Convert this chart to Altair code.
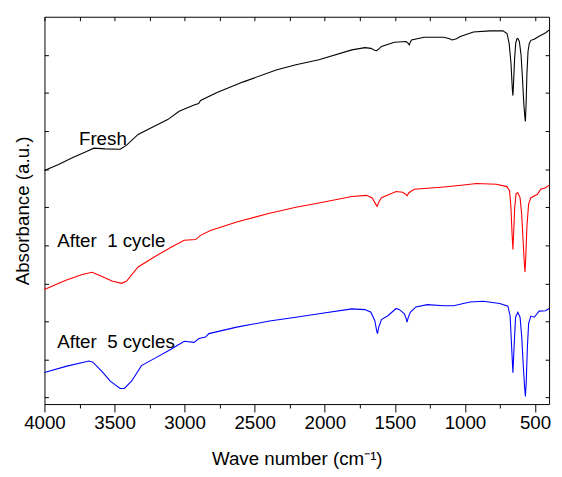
import altair as alt
import pandas as pd

FONT = "Liberation Sans"

# ---- data (wave number cm^-1, absorbance a.u.) ----
fresh_w = [4000, 3900, 3801, 3700, 3648, 3566, 3460, 3414, 3332, 3220, 3121, 3039, 2933, 2900, 2886,
           2769, 2581, 2347, 2206, 2042, 1807, 1714, 1671, 1645, 1631, 1610, 1596, 1503, 1420, 1405,
           1397, 1390, 1381, 1292, 1151, 1110, 1092, 1060, 1033, 940, 822, 729, 700, 685, 672, 662,
           658, 654, 646, 638, 630, 623, 612, 600, 590, 580, 572, 569, 564, 558, 550, 541, 530, 506,
           471, 424, 400]
fresh_a = [5.96, 6.12, 6.30, 6.46, 6.55, 6.53, 6.52, 6.63, 6.91, 7.12, 7.30, 7.52, 7.68, 7.72, 7.80,
           8.01, 8.29, 8.60, 8.74, 8.87, 9.13, 9.19, 9.17, 9.12, 9.11, 9.17, 9.22, 9.33, 9.35, 9.30,
           9.26, 9.33, 9.39, 9.46, 9.46, 9.42, 9.39, 9.42, 9.48, 9.60, 9.63, 9.63, 9.56, 9.30, 8.80, 8.10,
           7.93, 8.20, 8.90, 9.30, 9.42, 9.43, 9.35, 9.00, 8.40, 7.70, 7.35, 7.25, 7.70, 8.50, 9.10, 9.30, 9.38, 9.41,
           9.49, 9.58, 9.65]

cyc1_w = [4000, 3988, 3847, 3731, 3660, 3601, 3519, 3449, 3414, 3332, 3214, 3097, 3003, 2922, 2886,
          2816, 2628, 2394, 2206, 2042, 1807, 1702, 1662, 1640, 1627, 1612, 1596, 1550, 1491, 1444,
          1420, 1413, 1400, 1362, 1221, 1151, 1010, 917, 776, 701, 682, 672, 664, 658, 653, 645, 635,
          623, 607, 595, 585, 576, 572, 566, 558, 546, 530, 483, 459, 424, 400]
cyc1_a = [2.84, 2.86, 3.08, 3.23, 3.29, 3.20, 3.06, 3.00, 3.06, 3.43, 3.70, 3.95, 4.13, 4.15, 4.26,
          4.39, 4.61, 4.84, 5.00, 5.11, 5.28, 5.31, 5.24, 5.10, 5.02, 5.15, 5.25, 5.32, 5.41, 5.39,
          5.33, 5.30, 5.38, 5.47, 5.51, 5.53, 5.58, 5.62, 5.60, 5.54, 5.43, 5.00, 4.30, 3.89, 4.30, 5.00, 5.36,
          5.38, 5.25, 4.80, 4.10, 3.50, 3.30, 3.70, 4.50, 5.08, 5.25, 5.34, 5.47, 5.51, 5.58]

cyc5_w = [4000, 3847, 3683, 3655, 3590, 3531, 3460, 3430, 3379, 3308, 3214, 3097, 3003, 2933, 2898,
          2851, 2827, 2628, 2394, 2206, 2042, 1807, 1714, 1671, 1643, 1630, 1624, 1615, 1596, 1550,
          1491, 1467, 1432, 1420, 1413, 1405, 1390, 1350, 1268, 1151, 1081, 964, 870, 752, 694, 678,
          668, 658, 650, 639, 623, 607, 595, 585, 575, 569, 563, 555, 546, 530, 506, 471, 424, 400]
cyc5_a = [0.66, 0.82, 0.96, 0.93, 0.69, 0.43, 0.24, 0.24, 0.43, 0.84, 1.03, 1.27, 1.48, 1.45, 1.55,
          1.59, 1.68, 1.85, 2.01, 2.11, 2.20, 2.33, 2.31, 2.24, 2.02, 1.75, 1.68, 1.85, 2.05, 2.15,
          2.34, 2.31, 2.20, 2.08, 1.98, 2.10, 2.24, 2.38, 2.44, 2.41, 2.41, 2.51, 2.53, 2.47, 2.40, 2.15,
          1.40, 0.65, 1.30, 2.11, 2.24, 2.11, 1.60, 0.90, 0.30, 0.03, 0.40, 1.30, 1.94, 2.14, 2.11, 2.27, 2.28, 2.34]

series_names = ["Fresh", "After 1 cycle", "After 5 cycles"]
series_colors = ["#000000", "#ff0000", "#0000ff"]

label_text = ["Fresh", "After\u00a0 1 cycle", "After\u00a0 5 cycles"]
label_w = [3754, 3909, 3909]
label_a = [6.64, 3.95, 1.29]

x_ticks = list(range(500, 4001, 250))
y_ticks = list(range(0, 10))

# ---- tables ----
rows = []
for name, ws, As in zip(series_names, [fresh_w, cyc1_w, cyc5_w], [fresh_a, cyc1_a, cyc5_a]):
    for w, a in zip(ws, As):
        rows.append({"series": name, "w": w, "a": a})
df = pd.DataFrame(rows)
lab = pd.DataFrame({"text": label_text, "w": label_w, "a": label_a})

xscale = alt.Scale(domain=[4000, 400], nice=False, zero=False)
yscale = alt.Scale(domain=[-0.17, 10.0], nice=False, zero=False)

tick_expr = alt.ExprRef(expr="datum.value % 500 === 0 ? 8 : 4")

x_bottom = alt.Axis(
    values=x_ticks, labelExpr="datum.value % 500 === 0 ? datum.label : ''",
    tickSize=tick_expr, domain=False, grid=False, labelFlush=False, labelOverlap=False,
    labelFont=FONT, labelFontSize=19, labelColor="black", labelPadding=2,
    title="Wave number (cm⁻¹)", titleFont=FONT, titleFontSize=19, titleFontWeight="normal",
    titleColor="black", titlePadding=17, tickColor="black", format="d",
)
y_left = alt.Axis(
    values=y_ticks, labels=False, tickSize=4, offset=-4, domain=False, grid=False,
    tickColor="black", title="Absorbance (a.u.)", titleFont=FONT, titleFontSize=19,
    titleFontWeight="normal", titleColor="black", titlePadding=12,
)
x_top = alt.Axis(orient="top", values=x_ticks, labels=False, tickSize=4, offset=-4,
                 domain=False, grid=False, tickColor="black", title=None)
y_right = alt.Axis(orient="right", values=y_ticks, labels=False, tickSize=4, offset=-4,
                   domain=False, grid=False, tickColor="black", title=None)

lines = alt.Chart(df).mark_line(strokeWidth=1.1).encode(
    x=alt.X("w:Q", scale=xscale, axis=x_bottom),
    y=alt.Y("a:Q", scale=yscale, axis=y_left),
    color=alt.Color("series:N", scale=alt.Scale(domain=series_names, range=series_colors), legend=None),
    order=alt.Order("w:Q"),
)

ghost = alt.Chart(df).mark_point(opacity=0).encode(
    x=alt.X("w:Q", scale=xscale, axis=x_top),
    y=alt.Y("a:Q", scale=yscale, axis=y_right),
)

labels = alt.Chart(lab).mark_text(
    align="left", baseline="alphabetic", font=FONT, fontSize=19, color="black"
).encode(
    x=alt.X("w:Q", scale=xscale, axis=None),
    y=alt.Y("a:Q", scale=yscale, axis=None),
    text="text:N",
)

chart = alt.layer(lines, ghost, labels).resolve_axis(
    x="independent", y="independent"
).properties(
    width=512, height=393,
    autosize=alt.AutoSizeParams(type="none"),
    padding={"left": 37, "top": 5.5, "right": 5, "bottom": 62},
).configure_view(stroke="black", strokeWidth=1)

chart.save("out.html", embed_options={"renderer": "svg", "actions": False})
